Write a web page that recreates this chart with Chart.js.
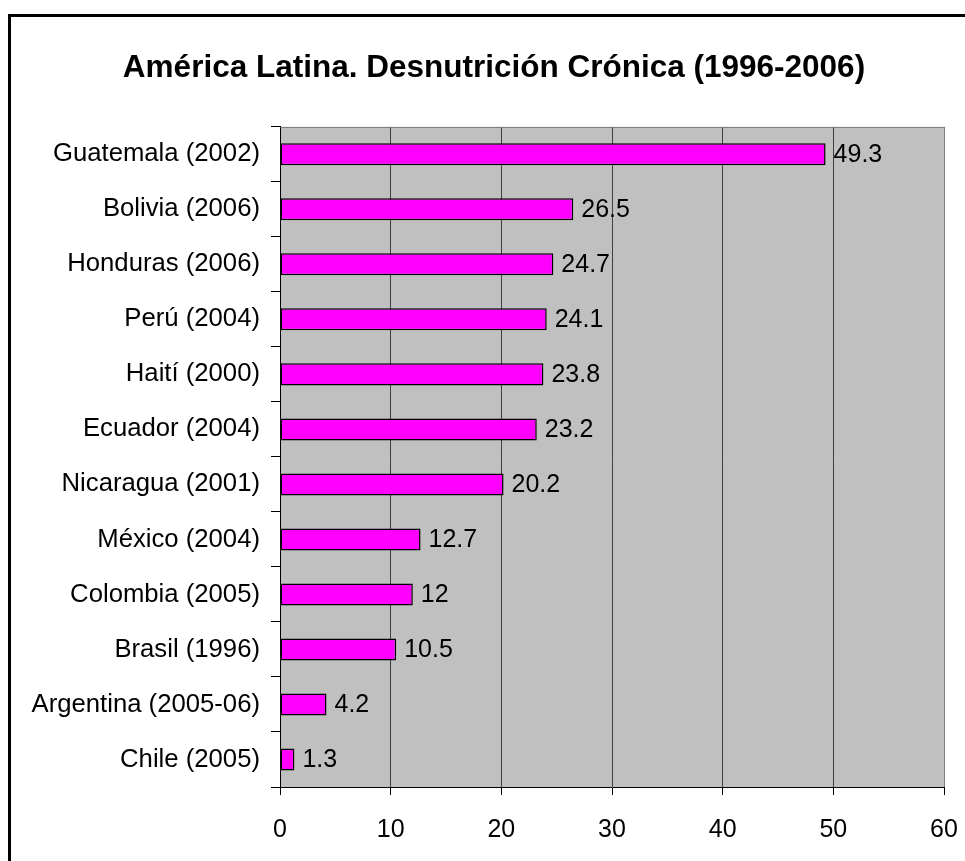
<!DOCTYPE html>
<html>
<head>
<meta charset="utf-8">
<title>América Latina. Desnutrición Crónica (1996-2006)</title>
<script src="https://cdn.jsdelivr.net/npm/chart.js@4/dist/chart.umd.min.js"></script>
<style>
  html, body { margin: 0; padding: 0; background: #fff; }
  canvas { display: block; }
</style>
</head>
<body>
<canvas id="chart" width="965" height="861"></canvas>
<script>
// ── Data ────────────────────────────────────────────────────────────────────
const countries = [
  'Guatemala (2002)', 'Bolivia (2006)', 'Honduras (2006)', 'Perú (2004)',
  'Haití (2000)', 'Ecuador (2004)', 'Nicaragua (2001)', 'México (2004)',
  'Colombia (2005)', 'Brasil (1996)', 'Argentina (2005-06)', 'Chile (2005)'
];
const values = [49.3, 26.5, 24.7, 24.1, 23.8, 23.2, 20.2, 12.7, 12, 10.5, 4.2, 1.3];
const xTicks = [0, 10, 20, 30, 40, 50, 60];

const FONT = "'Liberation Sans', Arial, Helvetica, sans-serif";

// ── Plugins ─────────────────────────────────────────────────────────────────
const frame = {
  id: 'frame',
  beforeDraw(chart) {
    const { ctx, chartArea: a } = chart;
    ctx.save();
    // outer chart border
    ctx.strokeStyle = '#000';
    ctx.lineWidth = 3;
    ctx.strokeRect(9.5, 15.5, 1000, 900);
    // plot area
    ctx.fillStyle = '#c0c0c0';
    ctx.fillRect(a.left, a.top, a.right - a.left, a.bottom - a.top);
    ctx.restore();
  },
  afterDraw(chart) {
    const { ctx, chartArea: a } = chart;
    ctx.save();
    ctx.strokeStyle = '#808080';
    ctx.lineWidth = 1;
    ctx.beginPath();
    ctx.moveTo(Math.round(a.left) + 0.5, Math.round(a.top) + 0.5);
    ctx.lineTo(Math.round(a.right) + 0.5, Math.round(a.top) + 0.5);
    ctx.lineTo(Math.round(a.right) + 0.5, Math.round(a.bottom));
    ctx.stroke();
    ctx.restore();
  }
};

const valueLabels = {
  id: 'valueLabels',
  afterDatasetsDraw(chart) {
    const { ctx } = chart;
    const meta = chart.getDatasetMeta(0);
    ctx.save();
    ctx.font = `25px ${FONT}`;
    ctx.fillStyle = '#000';
    ctx.textAlign = 'left';
    ctx.textBaseline = 'middle';
    meta.data.forEach((bar, i) => {
      ctx.fillText(String(values[i]), bar.x + 8, bar.y + 1);
    });
    ctx.restore();
  }
};

// ── Chart ───────────────────────────────────────────────────────────────────
new Chart(document.getElementById('chart'), {
  type: 'bar',
  data: {
    labels: countries,
    datasets: [{
      data: values,
      backgroundColor: '#ff00ff',
      borderColor: '#000',
      borderWidth: 1.5,
      borderSkipped: false,
      barPercentage: 0.4,
      categoryPercentage: 1
    }]
  },
  options: {
    indexAxis: 'y',
    responsive: false,
    animation: false,
    layout: { padding: { left: 23, right: 0, top: 0, bottom: 0 } },
    plugins: {
      legend: { display: false },
      tooltip: { enabled: false },
      title: {
        display: true,
        text: 'América Latina. Desnutrición Crónica (1996-2006)',
        color: '#000',
        font: { family: FONT, size: 31.5, weight: 'bold', lineHeight: 1.2 },
        padding: { top: 49, bottom: 40 }
      }
    },
    scales: {
      x: {
        min: 0, max: 60,
        afterBuildTicks: s => { s.ticks = xTicks.map(v => ({ value: v })); },
        afterFit: s => { s.height = 74; s.paddingLeft = 0; s.paddingRight = 21; },
        grid: {
          color: c => (c.tick && c.tick.value === 60) ? '#808080' : '#404040',
          lineWidth: 1,
          drawTicks: true,
          tickLength: 8,
          tickColor: '#000'
        },
        border: { color: '#000', width: 1 },
        ticks: { color: '#000', padding: 20, font: { family: FONT, size: 25 } }
      },
      y: {
        afterFit: s => { s.width = 257; },
        grid: {
          drawOnChartArea: false,
          drawTicks: true,
          tickLength: 9,
          tickColor: '#000'
        },
        border: { color: '#000', width: 1 },
        ticks: { color: '#000', padding: 11, font: { family: FONT, size: 25.7 } }
      }
    }
  },
  plugins: [frame, valueLabels]
});
</script>
</body>
</html>
